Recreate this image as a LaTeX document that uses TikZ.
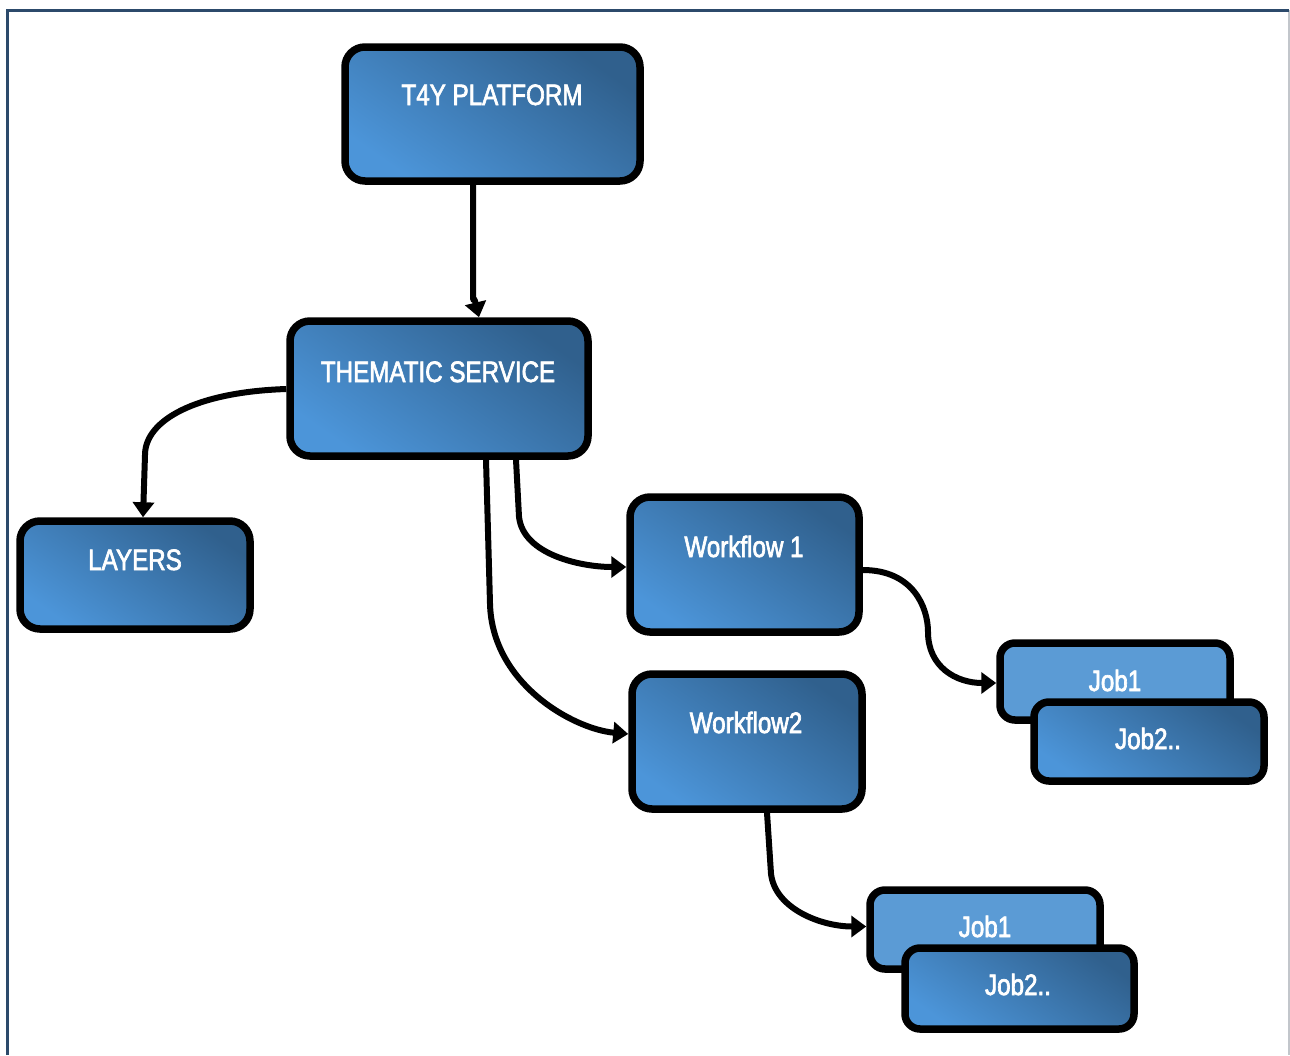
\documentclass[tikz,border=0pt]{standalone}
\usepackage{fontspec}
\setmainfont{Liberation Sans}[FakeStretch=0.82, FakeBold=2.2]
\usetikzlibrary{arrows.meta}
\definecolor{framenavy}{HTML}{2C4A6B}
\definecolor{frameside}{HTML}{C2C6CB}
\definecolor{boxlight}{HTML}{4C95D9}
\definecolor{boxdark}{HTML}{30608D}
\definecolor{jobflat}{HTML}{5B9BD5}
\tikzset{
  card/.style={draw=black, line width=7.5pt, rounded corners=20pt,
    top color=boxdark, bottom color=boxlight, shading angle=-35,
    inner sep=0pt},
  jobcard/.style={card, rounded corners=15pt},
  jobflatcard/.style={draw=black, line width=7.5pt, rounded corners=15pt,
    fill=jobflat, inner sep=0pt},
  lbl/.style={text=white, font=\fontsize{29.5}{32}\selectfont, anchor=base, inner sep=0pt},
  link/.style={draw=black, line width=6pt,
    -{Triangle[length=15pt, width=21pt]}},
}
\begin{document}
\begin{tikzpicture}[x=1pt, y=-1pt]
\useasboundingbox (0,0) rectangle (1290,1055);
\fill[white] (0,0) rectangle (1290,1055);

% page frame
\draw[frameside, line width=1.5pt] (1289,10) -- (1289,1055);
\draw[framenavy, line width=3pt] (7,1055) -- (7,10) -- (1289,10);

% main boxes
\node[card, minimum width=295pt, minimum height=134pt] (t4y) at (492.5,114) {};
\node[card, minimum width=298pt, minimum height=135pt] (ts) at (439,388.5) {};
\node[card, minimum width=230pt, minimum height=108pt] (layers) at (135,575) {};
\node[card, minimum width=229pt, minimum height=135pt] (wf1) at (744.5,564.5) {};
\node[card, minimum width=230pt, minimum height=135pt] (wf2) at (747,741.5) {};

% job stacks
\node[jobflatcard, minimum width=230pt, minimum height=77pt] (jobA1) at (1115,681.5) {};
\node[jobcard, minimum width=230pt, minimum height=79pt] (jobA2) at (1149,741.5) {};
\node[jobflatcard, minimum width=230pt, minimum height=79pt] (jobB1) at (985,929.5) {};
\node[jobcard, minimum width=229pt, minimum height=81pt] (jobB2) at (1019.5,988.5) {};

% labels
\node[lbl] (t4ytext) at (492,105) {T4Y PLATFORM};
\node[lbl] (tstext) at (438,382) {THEMATIC SERVICE};
\node[lbl] (layerstext) at (135,570) {LAYERS};
\node[lbl] (wf1text) at (744,557) {Workflow 1};
\node[lbl] (wf2text) at (746,733) {Workflow2};
\node[lbl] (jobA1text) at (1115,691) {Job1};
\node[lbl] (jobA2text) at (1148,749) {Job2..};
\node[lbl] (jobB1text) at (985,937) {Job1};
\node[lbl] (jobB2text) at (1018,995) {Job2..};

% connectors (y grows downwards)
\draw[link] ([xshift=-19.5pt]t4y.south) -- ++(0,100) .. controls ++(0,25) and ++(-6,-25) .. ([xshift=40pt]ts.north);
\draw[link] ([yshift=-0.5pt]ts.west) .. controls ++(-90,3) and ++(0,-35) .. (145,455) -- ([xshift=8pt]layers.north);
\draw[link] ([xshift=77pt]ts.south) -- ++(3,57) .. controls ++(4,38) and ++(-45,0) .. ([yshift=-2.5pt]wf1.west);
\draw[link] ([xshift=47pt]ts.south) -- ++(4,144) .. controls ++(2,80) and ++(-55,-5) .. ([yshift=7.5pt]wf2.west);
\draw[link] ([yshift=-5.5pt]wf1.east) .. controls ++(50,0) and ++(0,-25) .. (928,632) .. controls ++(0,35) and ++(-40,0) .. ([yshift=-1.5pt]jobA1.west);
\draw[link] ([xshift=20pt]wf2.south) -- ++(4,61) .. controls ++(4,35) and ++(-45,0) .. ([yshift=3pt]jobB1.west);
\end{tikzpicture}
\end{document}
